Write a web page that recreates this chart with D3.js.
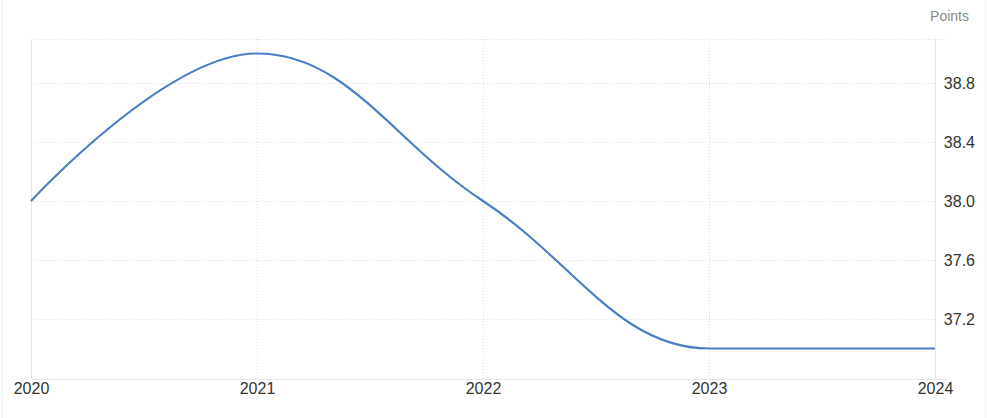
<!DOCTYPE html>
<html>
<head>
<meta charset="utf-8">
<script src="https://cdn.jsdelivr.net/npm/d3@7"></script>
<style>
html,body{margin:0;padding:0;background:#fff;}
svg{display:block;font-family:"Helvetica Neue",Helvetica,Arial,"Liberation Sans",sans-serif;}
</style>
</head>
<body>
<svg id="chart" width="987" height="418"></svg>
<script>
const years = [2020, 2021, 2022, 2023, 2024];
const values = [38.0, 39.0, 38.0, 37.0, 37.0];
const yTicks = [37.2, 37.6, 38.0, 38.4, 38.8];
const xTickLabels = ["2020", "2021", "2022", "2023", "2024"];
const unitLabel = "Points";

// spline curve (control points at 1/2.5 of neighbours' span, clamped to avoid false extremes)
function SplineCurve(context) { this._context = context; }
SplineCurve.prototype = {
  areaStart() { this._line = 0; },
  areaEnd() { this._line = NaN; },
  lineStart() { this._pts = []; },
  point(x, y) { this._pts.push([+x, +y]); },
  lineEnd() {
    const p = this._pts, n = p.length, ctx = this._context;
    if (!n) return;
    const sm = 1.5, den = sm + 1;
    const L = [], R = [];
    for (let i = 1; i < n - 1; i++) {
      const [x, y] = p[i], [lx, ly] = p[i - 1], [nx, ny] = p[i + 1];
      let lcx = (sm * x + lx) / den, lcy = (sm * y + ly) / den;
      let rcx = (sm * x + nx) / den, rcy = (sm * y + ny) / den;
      const corr = ((rcy - lcy) * (rcx - x)) / (rcx - lcx) + y - rcy;
      lcy += corr; rcy += corr;
      if (lcy > ly && lcy > y) { lcy = Math.max(ly, y); rcy = 2 * y - lcy; }
      else if (lcy < ly && lcy < y) { lcy = Math.min(ly, y); rcy = 2 * y - lcy; }
      if (rcy > ny && rcy > y) { rcy = Math.max(ny, y); lcy = 2 * y - rcy; }
      else if (rcy < ny && rcy < y) { rcy = Math.min(ny, y); lcy = 2 * y - rcy; }
      L[i] = [lcx, lcy]; R[i] = [rcx, rcy];
    }
    ctx.moveTo(p[0][0], p[0][1]);
    for (let i = 1; i < n; i++) {
      const c1 = R[i - 1] || p[i - 1];
      const c2 = L[i] || p[i];
      ctx.bezierCurveTo(c1[0], c1[1], c2[0], c2[1], p[i][0], p[i][1]);
    }
  }
};
const curveSpline = ctx => new SplineCurve(ctx);

(function () {
const svg = d3.select("#chart");
const W = 987, H = 418;
const pLeft = 31, pRight = 935, pTop = 39, pBottom = 379;

const x = d3.scaleLinear().domain([2020, 2024]).range([pLeft, pRight]);
const y = d3.scaleLinear().domain([37.0, 38.0]).range([348.5, 201]);

// outer frame
svg.append("line").attr("x1", 2.5).attr("x2", 2.5).attr("y1", 0).attr("y2", H).attr("stroke", "#f0f0f0");
svg.append("line").attr("x1", 985.5).attr("x2", 985.5).attr("y1", 0).attr("y2", H).attr("stroke", "#f0f0f0");

// horizontal grid
svg.append("g").selectAll("line").data(yTicks).join("line")
  .attr("x1", pLeft).attr("x2", pRight)
  .attr("y1", d => Math.round(y(d)) + 0.5).attr("y2", d => Math.round(y(d)) + 0.5)
  .attr("stroke", "#dcdcdc").attr("stroke-dasharray", "1,2");
// top grid line
svg.append("line").attr("x1", pLeft).attr("x2", 947).attr("y1", pTop + 0.5).attr("y2", pTop + 0.5)
  .attr("stroke", "#dcdcdc").attr("stroke-dasharray", "1,2");

// vertical grid
svg.append("g").selectAll("line").data(years.slice(1, -1)).join("line")
  .attr("x1", d => Math.round(x(d)) + 0.5).attr("x2", d => Math.round(x(d)) + 0.5)
  .attr("y1", pTop).attr("y2", pBottom)
  .attr("stroke", "#dcdcdc").attr("stroke-dasharray", "1,2");

// side borders
svg.append("line").attr("x1", pLeft + 0.5).attr("x2", pLeft + 0.5).attr("y1", pTop).attr("y2", pBottom).attr("stroke", "#e6e6e6");
svg.append("line").attr("x1", pRight + 0.5).attr("x2", pRight + 0.5).attr("y1", pTop).attr("y2", pBottom).attr("stroke", "#e6e6e6");
// bottom axis line
svg.append("line").attr("x1", pLeft).attr("x2", 947).attr("y1", pBottom + 0.5).attr("y2", pBottom + 0.5).attr("stroke", "#e6e6e6");

// x axis
const xAxis = d3.axisBottom(x).tickValues(years).tickFormat((d, i) => xTickLabels[i]).tickSize(0).tickPadding(0);
const gx = svg.append("g").attr("transform", `translate(0,${pBottom})`).call(xAxis);
gx.select(".domain").remove();
gx.selectAll("text").attr("dy", "0.35em").attr("y", 9)
  .attr("font-size", 16).attr("fill", "#333").attr("font-family", null);

// y axis on right
const yAxis = d3.axisRight(y).tickValues(yTicks).tickFormat(d3.format(".1f")).tickSize(0).tickPadding(0);
const gy = svg.append("g").attr("transform", `translate(${pRight},0)`).call(yAxis);
gy.select(".domain").remove();
gy.selectAll("text").attr("x", 40).attr("text-anchor", "end").attr("dy", "0.35em")
  .attr("font-size", 16).attr("fill", "#333").attr("font-family", null);

// unit label
svg.append("text").attr("x", 969).attr("y", 16).attr("dy", "0.35em").attr("text-anchor", "end")
  .attr("font-size", 14).attr("fill", "#888").text(unitLabel);

// line
const line = d3.line().x((d, i) => x(years[i])).y(d => y(d)).curve(curveSpline);
svg.append("path").datum(values).attr("d", line)
  .attr("fill", "none").attr("stroke", "#4a7fc4").attr("stroke-width", 2.2);
})();
</script>
</body>
</html>
